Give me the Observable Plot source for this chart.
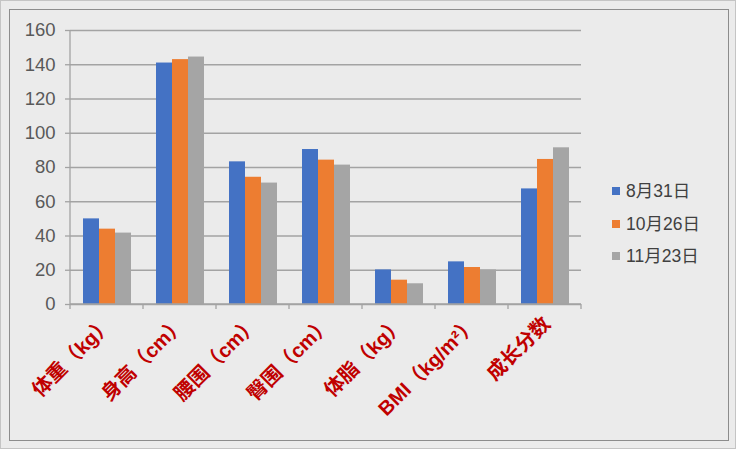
<!DOCTYPE html>
<html>
<head>
<meta charset="utf-8">
<script src="https://cdn.jsdelivr.net/npm/d3@7"></script>
<script src="https://cdn.jsdelivr.net/npm/@observablehq/plot@0.6"></script>
<style>
  html, body { margin: 0; padding: 0; background: #ebebeb; }
  #wrap { position: relative; width: 736px; height: 449px; background: #ebebeb; overflow: hidden;
          font-family: "Liberation Sans", "Noto Sans CJK SC", sans-serif; }
  #outer { position: absolute; left: 0; top: 0; width: 734px; height: 447px; border: 1px solid #c4c4c4; }
  #inner { position: absolute; left: 9px; top: 9px; width: 718px; height: 430px; border: 1px solid #8c8c8c; }
  #chart { position: absolute; left: 0; top: 0; }
  #legend { position: absolute; left: 612px; top: 175px; color: #404040; font-size: 17.5px; }
  .row { height: 32.5px; line-height: 32.5px; display: flex; align-items: center; }
  .sw { width: 8px; height: 8px; margin-right: 6px; }
</style>
</head>
<body>
<div id="wrap">
  <div id="outer"></div>
  <div id="inner"></div>
  <div id="chart"></div>
  <div id="legend"></div>
</div>
<script>
const categories = ["体重（kg）", "身高（cm）", "腰围（cm）", "臀围（cm）", "体脂（kg）", "BMI（kg/m²）", "成长分数"];
const series = ["8月31日", "10月26日", "11月23日"];
const values_0831 = [50.0, 141.0, 83.3, 90.5, 20.2, 24.9, 67.5];
const values_1026 = [44.0, 143.0, 74.3, 84.3, 14.2, 21.6, 84.7];
const values_1123 = [41.7, 144.5, 70.9, 81.4, 12.1, 20.2, 91.5];
const yTicks = [0, 20, 40, 60, 80, 100, 120, 140, 160];
const colors = ["#4472C4", "#ED7D31", "#A5A5A5"];

const seriesValues = [values_0831, values_1026, values_1123];
const rows = categories.flatMap((c, i) => series.map((s, j) => ({category: c, series: s, value: seriesValues[j][i]})));

const gridColor = "#a3a3a3";

const plot = Plot.plot({
  width: 736,
  height: 449,
  marginLeft: 68,
  marginRight: 154,
  marginTop: 30,
  marginBottom: 145,
  style: {background: "transparent", fontFamily: "'Liberation Sans', 'Noto Sans CJK SC', sans-serif"},
  fx: {domain: categories, padding: 0, label: null},
  x: {domain: series, paddingInner: 0, paddingOuter: 0.75, axis: null},
  y: {domain: [0, 160], label: null},
  color: {domain: series, range: colors},
  marks: [
    Plot.gridY(yTicks, {stroke: gridColor, strokeOpacity: 1, strokeWidth: 1.3}),
    Plot.barY(rows, {fx: "category", x: "series", y: "value", fill: "series"}),
    Plot.axisY(yTicks, {tickSize: 5, tickPadding: 10, fontSize: 18.5, fill: "#595959", stroke: gridColor, strokeWidth: 1.3, label: null}),
    Plot.axisFx({anchor: "bottom", tickRotate: -45, tickSize: 0, tickPadding: 16, dx: 2, fontSize: 20, fontWeight: "bold", fill: "#C00000", label: null})
  ]
});

document.getElementById("chart").appendChild(plot);

// axis line and category boundary ticks, placed with the plot's own scales
const fx = plot.scale("fx");
const y = plot.scale("y");
const svg = d3.select(plot);
const x0 = fx.apply(categories[0]);
const g = svg.append("g").attr("stroke", gridColor).attr("stroke-width", 1.3);
g.append("line").attr("x1", x0).attr("x2", x0).attr("y1", y.apply(160)).attr("y2", y.apply(0));
const bounds = categories.map(c => fx.apply(c)).concat([fx.apply(categories[categories.length - 1]) + fx.step]);
g.append("line").attr("x1", bounds[0]).attr("x2", bounds[bounds.length - 1]).attr("y1", y.apply(0)).attr("y2", y.apply(0));
bounds.forEach(b => g.append("line").attr("x1", b).attr("x2", b).attr("y1", y.apply(0)).attr("y2", y.apply(0) + 5));

// legend
const legend = d3.select("#legend");
series.forEach((s, i) => {
  const r = legend.append("div").attr("class", "row");
  r.append("div").attr("class", "sw").style("background", colors[i]);
  r.append("span").text(s);
});
</script>
</body>
</html>
